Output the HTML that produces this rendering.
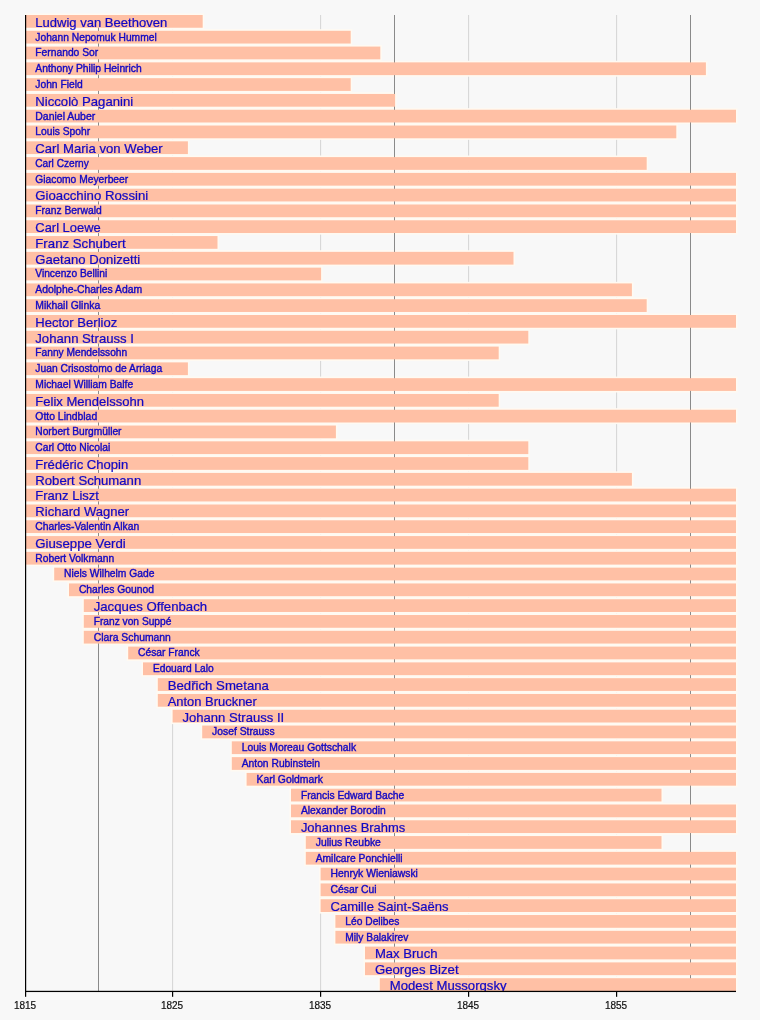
<!DOCTYPE html>
<html lang="en"><head><meta charset="utf-8"><title>Timeline of Romantic composers</title>
<style>html,body{margin:0;padding:0;background:#f8f8f8}svg{display:block;filter:blur(.4px)}text{font-family:"Liberation Sans",sans-serif}.b{font-size:13.35px;fill:#1208c4;stroke:#1208c4;stroke-width:.24px}.s{font-size:10.35px;fill:#1208c4;stroke:#1208c4;stroke-width:.38px}.a{font-size:10px;fill:#111;stroke:#111;stroke-width:.2px;text-anchor:middle}</style></head><body>
<svg width="760" height="1020" viewBox="0 0 760 1020">
<rect width="760" height="1020" fill="#f8f8f8"/>
<rect x="172.00" y="15" width="1.1" height="976" fill="#d8d8d8"/>
<rect x="320.00" y="15" width="1.1" height="976" fill="#d8d8d8"/>
<rect x="468.00" y="15" width="1.1" height="976" fill="#d8d8d8"/>
<rect x="616.00" y="15" width="1.1" height="976" fill="#d8d8d8"/>
<clipPath id="cp"><rect x="0" y="0" width="760" height="991.4"/></clipPath>
<g fill="#fffaf2" clip-path="url(#cp)">
<rect x="25.50" y="13.40" width="178.70" height="15.95"/>
<rect x="25.50" y="29.19" width="326.70" height="15.95"/>
<rect x="25.50" y="44.98" width="356.30" height="15.95"/>
<rect x="25.50" y="60.77" width="681.90" height="15.95"/>
<rect x="25.50" y="76.56" width="326.70" height="15.95"/>
<rect x="25.50" y="92.35" width="371.10" height="15.95"/>
<rect x="25.50" y="108.14" width="712.00" height="15.95"/>
<rect x="25.50" y="123.93" width="652.30" height="15.95"/>
<rect x="25.50" y="139.72" width="163.90" height="15.95"/>
<rect x="25.50" y="155.51" width="622.70" height="15.95"/>
<rect x="25.50" y="171.30" width="712.00" height="15.95"/>
<rect x="25.50" y="187.09" width="712.00" height="15.95"/>
<rect x="25.50" y="202.88" width="712.00" height="15.95"/>
<rect x="25.50" y="218.67" width="712.00" height="15.95"/>
<rect x="25.50" y="234.46" width="193.50" height="15.95"/>
<rect x="25.50" y="250.25" width="489.50" height="15.95"/>
<rect x="25.50" y="266.04" width="297.10" height="15.95"/>
<rect x="25.50" y="281.83" width="607.90" height="15.95"/>
<rect x="25.50" y="297.62" width="622.70" height="15.95"/>
<rect x="25.50" y="313.41" width="712.00" height="15.95"/>
<rect x="25.50" y="329.20" width="504.30" height="15.95"/>
<rect x="25.50" y="344.99" width="474.70" height="15.95"/>
<rect x="25.50" y="360.78" width="163.90" height="15.95"/>
<rect x="25.50" y="376.57" width="712.00" height="15.95"/>
<rect x="25.50" y="392.36" width="474.70" height="15.95"/>
<rect x="25.50" y="408.15" width="712.00" height="15.95"/>
<rect x="25.50" y="423.94" width="311.90" height="15.95"/>
<rect x="25.50" y="439.73" width="504.30" height="15.95"/>
<rect x="25.50" y="455.52" width="504.30" height="15.95"/>
<rect x="25.50" y="471.31" width="607.90" height="15.95"/>
<rect x="25.50" y="487.10" width="712.00" height="15.95"/>
<rect x="25.50" y="502.89" width="712.00" height="15.95"/>
<rect x="25.50" y="518.68" width="712.00" height="15.95"/>
<rect x="25.50" y="534.47" width="712.00" height="15.95"/>
<rect x="25.50" y="550.26" width="712.00" height="15.95"/>
<rect x="52.70" y="566.05" width="684.80" height="15.95"/>
<rect x="67.50" y="581.84" width="670.00" height="15.95"/>
<rect x="82.30" y="597.63" width="655.20" height="15.95"/>
<rect x="82.30" y="613.42" width="655.20" height="15.95"/>
<rect x="82.30" y="629.21" width="655.20" height="15.95"/>
<rect x="126.70" y="645.00" width="610.80" height="15.95"/>
<rect x="141.50" y="660.79" width="596.00" height="15.95"/>
<rect x="156.30" y="676.58" width="581.20" height="15.95"/>
<rect x="156.30" y="692.37" width="581.20" height="15.95"/>
<rect x="171.10" y="708.16" width="566.40" height="15.95"/>
<rect x="200.70" y="723.95" width="536.80" height="15.95"/>
<rect x="230.30" y="739.74" width="507.20" height="15.95"/>
<rect x="230.30" y="755.53" width="507.20" height="15.95"/>
<rect x="245.10" y="771.32" width="492.40" height="15.95"/>
<rect x="289.50" y="787.11" width="373.50" height="15.95"/>
<rect x="289.50" y="802.90" width="448.00" height="15.95"/>
<rect x="289.50" y="818.69" width="448.00" height="15.95"/>
<rect x="304.30" y="834.48" width="358.70" height="15.95"/>
<rect x="304.30" y="850.27" width="433.20" height="15.95"/>
<rect x="319.10" y="866.06" width="418.40" height="15.95"/>
<rect x="319.10" y="881.85" width="418.40" height="15.95"/>
<rect x="319.10" y="897.64" width="418.40" height="15.95"/>
<rect x="333.90" y="913.43" width="403.60" height="15.95"/>
<rect x="333.90" y="929.22" width="403.60" height="15.95"/>
<rect x="363.50" y="945.01" width="374.00" height="15.95"/>
<rect x="363.50" y="960.80" width="374.00" height="15.95"/>
<rect x="378.30" y="976.59" width="359.20" height="15.95"/>
</g>
<rect x="98.00" y="15" width="1" height="976" fill="#8a8a8a"/>
<rect x="394.00" y="15" width="1" height="976" fill="#8a8a8a"/>
<rect x="690.00" y="15" width="1" height="976" fill="#8a8a8a"/>
<g fill="#ffc0a5">
<rect x="25.50" y="15.00" width="177.20" height="12.75"/>
<rect x="25.50" y="30.79" width="325.20" height="12.75"/>
<rect x="25.50" y="46.58" width="354.80" height="12.75"/>
<rect x="25.50" y="62.37" width="680.40" height="12.75"/>
<rect x="25.50" y="78.16" width="325.20" height="12.75"/>
<rect x="25.50" y="93.95" width="369.60" height="12.75"/>
<rect x="25.50" y="109.74" width="710.50" height="12.75"/>
<rect x="25.50" y="125.53" width="650.80" height="12.75"/>
<rect x="25.50" y="141.32" width="162.40" height="12.75"/>
<rect x="25.50" y="157.11" width="621.20" height="12.75"/>
<rect x="25.50" y="172.90" width="710.50" height="12.75"/>
<rect x="25.50" y="188.69" width="710.50" height="12.75"/>
<rect x="25.50" y="204.48" width="710.50" height="12.75"/>
<rect x="25.50" y="220.27" width="710.50" height="12.75"/>
<rect x="25.50" y="236.06" width="192.00" height="12.75"/>
<rect x="25.50" y="251.85" width="488.00" height="12.75"/>
<rect x="25.50" y="267.64" width="295.60" height="12.75"/>
<rect x="25.50" y="283.43" width="606.40" height="12.75"/>
<rect x="25.50" y="299.22" width="621.20" height="12.75"/>
<rect x="25.50" y="315.01" width="710.50" height="12.75"/>
<rect x="25.50" y="330.80" width="502.80" height="12.75"/>
<rect x="25.50" y="346.59" width="473.20" height="12.75"/>
<rect x="25.50" y="362.38" width="162.40" height="12.75"/>
<rect x="25.50" y="378.17" width="710.50" height="12.75"/>
<rect x="25.50" y="393.96" width="473.20" height="12.75"/>
<rect x="25.50" y="409.75" width="710.50" height="12.75"/>
<rect x="25.50" y="425.54" width="310.40" height="12.75"/>
<rect x="25.50" y="441.33" width="502.80" height="12.75"/>
<rect x="25.50" y="457.12" width="502.80" height="12.75"/>
<rect x="25.50" y="472.91" width="606.40" height="12.75"/>
<rect x="25.50" y="488.70" width="710.50" height="12.75"/>
<rect x="25.50" y="504.49" width="710.50" height="12.75"/>
<rect x="25.50" y="520.28" width="710.50" height="12.75"/>
<rect x="25.50" y="536.07" width="710.50" height="12.75"/>
<rect x="25.50" y="551.86" width="710.50" height="12.75"/>
<rect x="54.20" y="567.65" width="681.80" height="12.75"/>
<rect x="69.00" y="583.44" width="667.00" height="12.75"/>
<rect x="83.80" y="599.23" width="652.20" height="12.75"/>
<rect x="83.80" y="615.02" width="652.20" height="12.75"/>
<rect x="83.80" y="630.81" width="652.20" height="12.75"/>
<rect x="128.20" y="646.60" width="607.80" height="12.75"/>
<rect x="143.00" y="662.39" width="593.00" height="12.75"/>
<rect x="157.80" y="678.18" width="578.20" height="12.75"/>
<rect x="157.80" y="693.97" width="578.20" height="12.75"/>
<rect x="172.60" y="709.76" width="563.40" height="12.75"/>
<rect x="202.20" y="725.55" width="533.80" height="12.75"/>
<rect x="231.80" y="741.34" width="504.20" height="12.75"/>
<rect x="231.80" y="757.13" width="504.20" height="12.75"/>
<rect x="246.60" y="772.92" width="489.40" height="12.75"/>
<rect x="291.00" y="788.71" width="370.50" height="12.75"/>
<rect x="291.00" y="804.50" width="445.00" height="12.75"/>
<rect x="291.00" y="820.29" width="445.00" height="12.75"/>
<rect x="305.80" y="836.08" width="355.70" height="12.75"/>
<rect x="305.80" y="851.87" width="430.20" height="12.75"/>
<rect x="320.60" y="867.66" width="415.40" height="12.75"/>
<rect x="320.60" y="883.45" width="415.40" height="12.75"/>
<rect x="320.60" y="899.24" width="415.40" height="12.75"/>
<rect x="335.40" y="915.03" width="400.60" height="12.75"/>
<rect x="335.40" y="930.82" width="400.60" height="12.75"/>
<rect x="365.00" y="946.61" width="371.00" height="12.75"/>
<rect x="365.00" y="962.40" width="371.00" height="12.75"/>
<rect x="379.80" y="978.19" width="356.20" height="12.75"/>
</g>
<g clip-path="url(#cp)">
<text class="b" x="35.30" y="26.75" textLength="131.9" lengthAdjust="spacingAndGlyphs">Ludwig van Beethoven</text>
<text class="s" x="35.30" y="40.59" textLength="121.4" lengthAdjust="spacingAndGlyphs">Johann Nepomuk Hummel</text>
<text class="s" x="35.30" y="56.38" textLength="62.9" lengthAdjust="spacingAndGlyphs">Fernando Sor</text>
<text class="s" x="35.30" y="72.17" textLength="106.4" lengthAdjust="spacingAndGlyphs">Anthony Philip Heinrich</text>
<text class="s" x="35.30" y="87.96" textLength="47.4" lengthAdjust="spacingAndGlyphs">John Field</text>
<text class="b" x="35.30" y="105.70" textLength="97.9" lengthAdjust="spacingAndGlyphs">Niccolò Paganini</text>
<text class="s" x="35.30" y="119.54" textLength="59.9" lengthAdjust="spacingAndGlyphs">Daniel Auber</text>
<text class="s" x="35.30" y="135.33" textLength="54.9" lengthAdjust="spacingAndGlyphs">Louis Spohr</text>
<text class="b" x="35.30" y="153.07" textLength="127.4" lengthAdjust="spacingAndGlyphs">Carl Maria von Weber</text>
<text class="s" x="35.30" y="166.91" textLength="53.4" lengthAdjust="spacingAndGlyphs">Carl Czerny</text>
<text class="s" x="35.30" y="182.70" textLength="92.9" lengthAdjust="spacingAndGlyphs">Giacomo Meyerbeer</text>
<text class="b" x="35.30" y="200.44" textLength="112.9" lengthAdjust="spacingAndGlyphs">Gioacchino Rossini</text>
<text class="s" x="35.30" y="214.28" textLength="66.4" lengthAdjust="spacingAndGlyphs">Franz Berwald</text>
<text class="b" x="35.30" y="232.02" textLength="65.4" lengthAdjust="spacingAndGlyphs">Carl Loewe</text>
<text class="b" x="35.30" y="247.81" textLength="90.4" lengthAdjust="spacingAndGlyphs">Franz Schubert</text>
<text class="b" x="35.30" y="263.60" textLength="104.9" lengthAdjust="spacingAndGlyphs">Gaetano Donizetti</text>
<text class="s" x="35.30" y="277.44" textLength="71.9" lengthAdjust="spacingAndGlyphs">Vincenzo Bellini</text>
<text class="s" x="35.30" y="293.23" textLength="106.9" lengthAdjust="spacingAndGlyphs">Adolphe-Charles Adam</text>
<text class="s" x="35.30" y="309.02" textLength="64.9" lengthAdjust="spacingAndGlyphs">Mikhail Glinka</text>
<text class="b" x="35.30" y="326.76" textLength="81.9" lengthAdjust="spacingAndGlyphs">Hector Berlioz</text>
<text class="b" x="35.30" y="342.55" textLength="98.7" lengthAdjust="spacingAndGlyphs">Johann Strauss I</text>
<text class="s" x="35.30" y="356.39" textLength="91.9" lengthAdjust="spacingAndGlyphs">Fanny Mendelssohn</text>
<text class="s" x="35.30" y="372.18" textLength="126.9" lengthAdjust="spacingAndGlyphs">Juan Crisostomo de Arriaga</text>
<text class="s" x="35.30" y="387.97" textLength="97.9" lengthAdjust="spacingAndGlyphs">Michael William Balfe</text>
<text class="b" x="35.30" y="405.71" textLength="108.7" lengthAdjust="spacingAndGlyphs">Felix Mendelssohn</text>
<text class="s" x="35.30" y="419.55" textLength="61.9" lengthAdjust="spacingAndGlyphs">Otto Lindblad</text>
<text class="s" x="35.30" y="435.34" textLength="86.2" lengthAdjust="spacingAndGlyphs">Norbert Burgmüller</text>
<text class="s" x="35.30" y="451.13" textLength="74.9" lengthAdjust="spacingAndGlyphs">Carl Otto Nicolai</text>
<text class="b" x="35.30" y="468.87" textLength="92.9" lengthAdjust="spacingAndGlyphs">Frédéric Chopin</text>
<text class="b" x="35.30" y="484.66" textLength="105.9" lengthAdjust="spacingAndGlyphs">Robert Schumann</text>
<text class="b" x="35.30" y="500.45" textLength="63.6" lengthAdjust="spacingAndGlyphs">Franz Liszt</text>
<text class="b" x="35.30" y="516.24" textLength="93.9" lengthAdjust="spacingAndGlyphs">Richard Wagner</text>
<text class="s" x="35.30" y="530.08" textLength="103.9" lengthAdjust="spacingAndGlyphs">Charles-Valentin Alkan</text>
<text class="b" x="35.30" y="547.82" textLength="90.4" lengthAdjust="spacingAndGlyphs">Giuseppe Verdi</text>
<text class="s" x="35.30" y="561.66" textLength="78.9" lengthAdjust="spacingAndGlyphs">Robert Volkmann</text>
<text class="s" x="64.10" y="577.45" textLength="90.4" lengthAdjust="spacingAndGlyphs">Niels Wilhelm Gade</text>
<text class="s" x="78.90" y="593.24" textLength="75.2" lengthAdjust="spacingAndGlyphs">Charles Gounod</text>
<text class="b" x="93.70" y="610.98" textLength="113.4" lengthAdjust="spacingAndGlyphs">Jacques Offenbach</text>
<text class="s" x="93.70" y="624.82" textLength="77.7" lengthAdjust="spacingAndGlyphs">Franz von Suppé</text>
<text class="s" x="93.70" y="640.61" textLength="77.2" lengthAdjust="spacingAndGlyphs">Clara Schumann</text>
<text class="s" x="138.10" y="656.40" textLength="61.6" lengthAdjust="spacingAndGlyphs">César Franck</text>
<text class="s" x="152.90" y="672.19" textLength="60.9" lengthAdjust="spacingAndGlyphs">Edouard Lalo</text>
<text class="b" x="167.70" y="689.93" textLength="101.2" lengthAdjust="spacingAndGlyphs">Bedřich Smetana</text>
<text class="b" x="167.70" y="705.72" textLength="89.2" lengthAdjust="spacingAndGlyphs">Anton Bruckner</text>
<text class="b" x="182.50" y="721.51" textLength="101.7" lengthAdjust="spacingAndGlyphs">Johann Strauss II</text>
<text class="s" x="212.10" y="735.35" textLength="62.6" lengthAdjust="spacingAndGlyphs">Josef Strauss</text>
<text class="s" x="241.70" y="751.14" textLength="114.4" lengthAdjust="spacingAndGlyphs">Louis Moreau Gottschalk</text>
<text class="s" x="241.70" y="766.93" textLength="78.4" lengthAdjust="spacingAndGlyphs">Anton Rubinstein</text>
<text class="s" x="256.50" y="782.72" textLength="66.4" lengthAdjust="spacingAndGlyphs">Karl Goldmark</text>
<text class="s" x="300.90" y="798.51" textLength="103.4" lengthAdjust="spacingAndGlyphs">Francis Edward Bache</text>
<text class="s" x="300.90" y="814.30" textLength="84.9" lengthAdjust="spacingAndGlyphs">Alexander Borodin</text>
<text class="b" x="300.90" y="832.04" textLength="104.4" lengthAdjust="spacingAndGlyphs">Johannes Brahms</text>
<text class="s" x="315.70" y="845.88" textLength="65.2" lengthAdjust="spacingAndGlyphs">Julius Reubke</text>
<text class="s" x="315.70" y="861.67" textLength="86.9" lengthAdjust="spacingAndGlyphs">Amilcare Ponchielli</text>
<text class="s" x="330.50" y="877.46" textLength="87.4" lengthAdjust="spacingAndGlyphs">Henryk Wieniawski</text>
<text class="s" x="330.50" y="893.25" textLength="46.1" lengthAdjust="spacingAndGlyphs">César Cui</text>
<text class="b" x="330.50" y="910.99" textLength="117.9" lengthAdjust="spacingAndGlyphs">Camille Saint-Saëns</text>
<text class="s" x="345.30" y="924.83" textLength="54.1" lengthAdjust="spacingAndGlyphs">Léo Delibes</text>
<text class="s" x="345.30" y="940.62" textLength="63.1" lengthAdjust="spacingAndGlyphs">Mily Balakirev</text>
<text class="b" x="374.90" y="958.36" textLength="62.6" lengthAdjust="spacingAndGlyphs">Max Bruch</text>
<text class="b" x="374.90" y="974.15" textLength="83.7" lengthAdjust="spacingAndGlyphs">Georges Bizet</text>
<text class="b" x="389.70" y="989.94" textLength="116.9" lengthAdjust="spacingAndGlyphs">Modest Mussorgsky</text>
</g>
<rect x="25" y="15" width="1.2" height="977" fill="#000"/>
<rect x="25" y="990.8" width="711" height="1.25" fill="#000"/>
<rect x="25.00" y="991" width="1.2" height="5.8" fill="#000"/>
<text class="a" x="25.05" y="1008.9">1815</text>
<rect x="172.00" y="991" width="1.2" height="5.8" fill="#000"/>
<text class="a" x="172.05" y="1008.9">1825</text>
<rect x="320.00" y="991" width="1.2" height="5.8" fill="#000"/>
<text class="a" x="320.05" y="1008.9">1835</text>
<rect x="468.00" y="991" width="1.2" height="5.8" fill="#000"/>
<text class="a" x="468.05" y="1008.9">1845</text>
<rect x="616.00" y="991" width="1.2" height="5.8" fill="#000"/>
<text class="a" x="616.05" y="1008.9">1855</text>
</svg></body></html>
